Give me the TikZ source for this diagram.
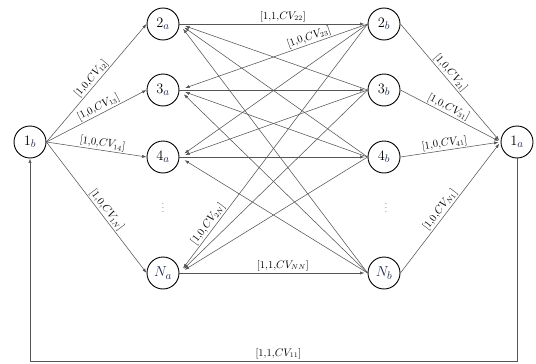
\documentclass[tikz,border=0pt]{standalone}
\usetikzlibrary{arrows.meta}
\definecolor{navy}{RGB}{30,40,80}
\definecolor{edgegray}{RGB}{85,85,85}
\tikzset{
  vtx/.style={circle,draw=black,line width=0.9pt,minimum size=32pt,inner sep=0pt,font=\fontsize{15}{17}\selectfont},
  edge/.style={draw=edgegray,line width=0.55pt,-{Latex[length=4.5pt,width=3.2pt]}},
  lbl/.style={font=\fontsize{10.5}{12}\selectfont,inner sep=1.2pt,sloped,above},
  hlbl/.style={font=\fontsize{10.5}{12}\selectfont,inner sep=2pt,above},
  dots/.style={font=\fontsize{8}{9}\selectfont,inner sep=0pt},
}
\begin{document}
\begin{tikzpicture}[x=1pt,y=-1pt]
\path[use as bounding box] (0,0) rectangle (536,364);
% nodes
\node[vtx] (1b) at (30,142) {$1_{\color{navy}b}$};
\node[vtx] (1a) at (517,142) {$1_{\color{navy}a}$};
\node[vtx] (a2) at (163,24) {$2_{\color{navy}a}$};
\node[vtx] (a3) at (163,90) {$3_{\color{navy}a}$};
\node[vtx] (a4) at (163,157) {$4_{\color{navy}a}$};
\node[vtx] (aN) at (163,273) {$\color{navy}N_a$};
\node[vtx] (b2) at (384,24) {$2_{\color{navy}b}$};
\node[vtx] (b3) at (384,90) {$3_{\color{navy}b}$};
\node[vtx] (b4) at (384,157) {$4_{\color{navy}b}$};
\node[vtx] (bN) at (384,273) {$\color{navy}N_b$};
\node[dots] (da) at (163,205) {$\vdots$};
\node[dots] (db) at (386,205) {$\vdots$};
\coordinate (br) at (517,361);
\coordinate (bl) at (30,361);
% 1b -> a
\draw[edge] (1b.east) -- node[lbl,pos=0.5]{[1,0,$CV_{12}$]} (a2.west);
\draw[edge] (1b.east) -- node[lbl,pos=0.55]{[1,0,$CV_{13}$]} (a3.west);
\draw[edge] (1b.east) -- node[lbl,pos=0.55]{[1,0,$CV_{14}$]} (a4.west);
\draw[edge] (1b.east) -- node[lbl,pos=0.55]{[1,0,$CV_{1N}$]} (aN.west);
% b -> 1a
\draw[edge,shorten >=2pt] (b2.east) -- node[lbl,pos=0.45]{[1,0,$CV_{21}$]} (1a.west);
\draw[edge,shorten >=2pt] (b3.east) -- node[lbl,pos=0.45]{[1,0,$CV_{31}$]} (1a.west);
\draw[edge,shorten >=2pt] (b4.east) -- node[lbl,pos=0.45]{[1,0,$CV_{41}$]} (1a.west);
\draw[edge,shorten >=2pt] (bN.east) -- node[lbl,pos=0.45]{[1,0,$CV_{N1}$]} (1a.west);
% horizontal a -> b
\draw[edge,shorten >=3pt] (a2.east) -- node[hlbl,pos=0.55]{[1,1,$CV_{22}$]} (b2.west);
\draw[edge,shorten >=3pt] (a3.east) -- (b3.west);
\draw[edge,shorten >=3pt] (a4.east) -- (b4.west);
\draw[edge,shorten >=3pt] (aN.east) -- node[hlbl,pos=0.55]{[1,1,$CV_{NN}$]} (bN.west);
% cross b_i -> a_j
\foreach \i in {2,3,4,N}{
  \foreach \j in {2,3,4,N}{
    \ifx\i\j\else
      \draw[edge,shorten >=6pt] (b\i.west) -- (a\j.east);
    \fi
  }
}
\path (b2.west) -- node[lbl,pos=0.3]{[1,0,$CV_{23}$]} (a3.east);
\path (b2.west) -- node[lbl,pos=0.82]{[1,0,$CV_{2N}$]} (aN.east);
% return
\draw[edge] (1a.south) -- (br) -- node[hlbl,pos=0.49]{[1,1,$CV_{11}$]} (bl) -- (1b.south);
\end{tikzpicture}
\end{document}
